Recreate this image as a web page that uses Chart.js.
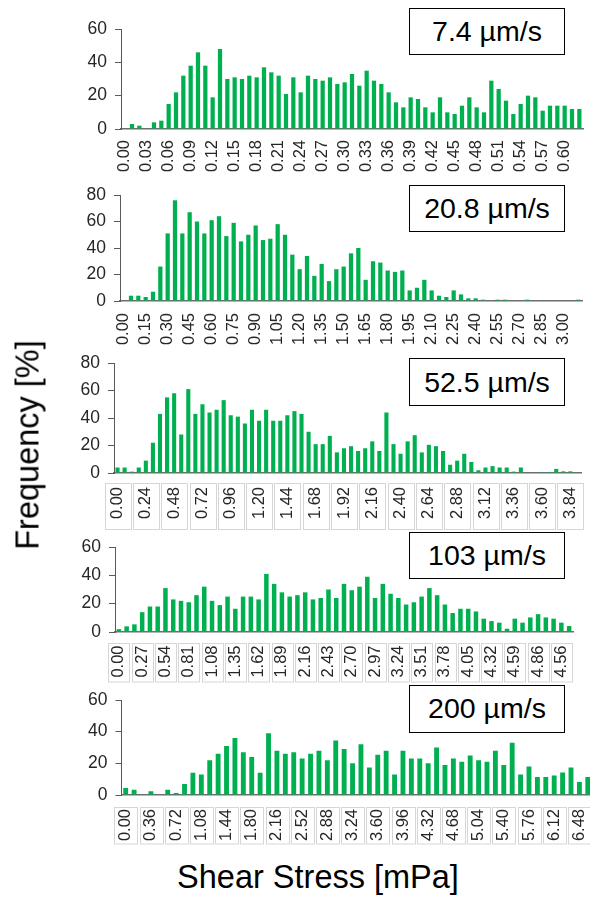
<!DOCTYPE html>
<html>
<head>
<meta charset="utf-8">
<script src="https://cdn.jsdelivr.net/npm/chart.js@4.4.0/dist/chart.umd.min.js"></script>
<style>
  html, body { margin: 0; padding: 0; background: #fff; overflow: hidden; }
  body { width: 590px; height: 898px; position: relative; font-family: 'Liberation Sans', Arial, sans-serif; }
  canvas { position: absolute; left: 0; }
  .tag {
    position: absolute; left: 409px; width: 156px; height: 47.5px; box-sizing: border-box;
    border: 1.5px solid #000; background: #fff; z-index: 2;
    display: flex; align-items: center; justify-content: center;
    font-size: 28.5px; color: #000; white-space: nowrap;
  }
  .title { position: absolute; font-size: 32.5px; color: #000; white-space: nowrap; z-index: 2; }
  #ytitle { left: 28px; top: 445px; transform: translate(-50%, -50%) rotate(-90deg); }
  #xtitle { left: 318px; top: 877px; transform: translate(-50%, -50%); }
</style>
</head>
<body>
<div id="wrap"></div>
<div class="title" id="ytitle">Frequency [%]</div>
<div class="title" id="xtitle">Shear Stress [mPa]</div>
<script>
// Flow speeds (box labels)
const speeds = ['7.4 µm/s', '20.8 µm/s', '52.5 µm/s', '103 µm/s', '200 µm/s'];

// Tick labels shown under each panel
const ticks1 = ['0.00','0.03','0.06','0.09','0.12','0.15','0.18','0.21','0.24','0.27','0.30',
  '0.33','0.36','0.39','0.42','0.45','0.48','0.51','0.54','0.57','0.60'];
const ticks2 = ['0.00','0.15','0.30','0.45','0.60','0.75','0.90','1.05','1.20','1.35','1.50',
  '1.65','1.80','1.95','2.10','2.25','2.40','2.55','2.70','2.85','3.00'];
const ticks3 = ['0.00','0.24','0.48','0.72','0.96','1.20','1.44','1.68','1.92','2.16','2.40',
  '2.64','2.88','3.12','3.36','3.60','3.84'];
const ticks4 = ['0.00','0.27','0.54','0.81','1.08','1.35','1.62','1.89','2.16','2.43','2.70',
  '2.97','3.24','3.51','3.78','4.05','4.32','4.59','4.86','4.56'];
const ticks5 = ['0.00','0.36','0.72','1.08','1.44','1.80','2.16','2.52','2.88','3.24','3.60',
  '3.96','4.32','4.68','5.04','5.40','5.76','6.12','6.48'];

// Frequency per bin [%]
const freq1 = [0, 3, 2, 0, 4, 5, 15, 22, 32, 38, 46, 38, 19, 48, 30, 31, 30, 32, 31, 37,
  34, 32, 21, 31, 22, 32, 30, 29, 31, 27, 28, 33, 26, 35, 29, 27, 22, 16, 13, 19,
  18, 13, 10, 19, 10, 9, 14, 19, 13, 10, 29, 24, 17, 9, 15, 20, 19, 11, 14, 14,
  14, 12, 12];
const freq2 = [0, 4, 4, 3, 7, 26, 51, 76, 51, 67, 60, 51, 61, 64, 49, 59, 45, 50, 57, 46,
  47, 58, 50, 35, 24, 34, 19, 28, 15, 24, 26, 36, 40, 16, 30, 29, 23, 22, 23, 8,
  10, 16, 8, 4, 3, 8, 5, 2, 2, 1, 0, 1, 1, 0, 0, 1, 0, 0, 0, 0,
  0, 0, 1];
const freq3 = [4, 4, 1, 4, 9, 22, 43, 55, 58, 28, 61, 43, 50, 44, 46, 53, 42, 41, 36, 46,
  38, 46, 38, 38, 42, 45, 43, 30, 21, 21, 27, 15, 18, 19.5, 16, 18, 23, 16, 44, 21,
  14, 23, 27.5, 15, 20.5, 19.5, 16, 6, 9, 14, 8, 2, 4, 5, 4, 4, 1, 4, 0, 0,
  0.7, 0.7, 3, 1.2, 1.2, 0];
const freq4 = [2, 4, 5.4, 14, 18, 18, 31, 23, 22, 21, 26, 32, 22, 19, 25, 16.4, 25, 25, 23, 41,
  34, 28, 25, 26, 28, 23, 24, 30, 24, 34, 29.5, 32, 39, 24, 34, 27, 24, 19.4, 21, 25,
  31, 26, 19.4, 13.4, 16.4, 16.4, 14.5, 9.4, 7.7, 6.6, 2.3, 9.4, 6.6, 10.3, 12.6, 10.3, 9.4, 6.6, 4.2];
const freq5 = [4.4, 3.3, 0, 2.3, 0, 3.3, 1.2, 7, 14, 13, 22, 26, 31, 36, 27, 24, 14, 39, 28, 26,
  27, 23, 26, 28, 22, 34.5, 29, 20, 32, 17.4, 25.5, 28, 13, 28, 23, 23, 20, 30, 19, 23,
  21, 25, 22, 21, 28, 19, 33, 13, 18, 11.3, 11.3, 12.3, 14.2, 17.4, 8.2, 11.3];

// Panel placement (page pixels)
const panels = [
  { values: freq1, ticks: ticks1, every: 3, yMax: 60, left: 121, right: 583, top: 29, bottom: 129, pad: 11, width: 590, tagTop: 7.5 },
  { values: freq2, ticks: ticks2, every: 3, yMax: 80, left: 120, right: 582, top: 195.3, bottom: 301.7, pad: 12, width: 590, tagTop: 184.5 },
  { values: freq3, ticks: ticks3, every: 4, yMax: 80, left: 114, right: 581, top: 363.3, bottom: 474, pad: 14, width: 590, tagTop: 358.3, boxGap: 10, boxH: 46 },
  { values: freq4, ticks: ticks4, every: 3, yMax: 60, left: 115, right: 573, top: 547.3, bottom: 632.7, pad: 13.5, width: 590, tagTop: 531.7, boxGap: 10.5, boxH: 38.5 },
  { values: freq5, ticks: ticks5, every: 3, yMax: 60, left: 121.5, right: 592, top: 700, bottom: 795.7, pad: 14, width: 592, tagTop: 685, boxGap: 11.5, boxH: 36.5 }
];

const FONT = "'Liberation Sans', Arial, sans-serif";
const TOP_ROOM = 12;
const AXIS_ROOM = 60;

// Light boxes round the x tick labels (lower three panels)
const labelBoxes = {
  id: 'labelBoxes',
  afterDraw(chart, args, opts) {
    if (!opts.show) return;
    const sx = chart.scales.x;
    const ctx = chart.ctx;
    const w = (sx.getPixelForTick(1) - sx.getPixelForTick(0)) * opts.every - 2.5;
    ctx.save();
    ctx.strokeStyle = '#d6d6d6';
    ctx.lineWidth = 1;
    sx.ticks.forEach((t, i) => {
      if (!t.label) return;
      const cx = sx.getPixelForTick(i);
      ctx.strokeRect(Math.round(cx - w / 2) + 0.5, Math.round(sx.top + opts.gap) + 0.5, Math.round(w), opts.height);
    });
    ctx.restore();
  }
};

const wrap = document.getElementById('wrap');

panels.forEach((p, k) => {
  const canvas = document.createElement('canvas');
  const h = (p.bottom - p.top) + TOP_ROOM + AXIS_ROOM;
  canvas.width = p.width;
  canvas.height = h;
  canvas.style.top = (p.top - TOP_ROOM) + 'px';
  wrap.appendChild(canvas);

  const labels = p.values.map((v, i) => i % p.every === 0 ? (p.ticks[i / p.every] || '') : '');

  new Chart(canvas.getContext('2d'), {
    type: 'bar',
    data: {
      labels,
      datasets: [{
        data: p.values,
        backgroundColor: '#00b050',
        borderWidth: 0,
        barPercentage: 0.58,
        categoryPercentage: 1
      }]
    },
    plugins: [labelBoxes],
    options: {
      responsive: false,
      animation: false,
      devicePixelRatio: 1,
      layout: { padding: { top: TOP_ROOM, right: p.width - p.right, left: 0, bottom: 0 } },
      plugins: {
        legend: { display: false },
        tooltip: { enabled: false },
        labelBoxes: { show: !!p.boxH, every: p.every, gap: p.boxGap, height: p.boxH }
      },
      scales: {
        x: {
          grid: { display: false, drawTicks: false },
          border: { display: true, color: '#6e6e6e', width: 1.5 },
          ticks: {
            autoSkip: false, minRotation: 90, maxRotation: 90, padding: p.pad,
            color: '#262626', font: { family: FONT, size: 16.5 }
          },
          afterFit: s => { s.height = AXIS_ROOM; s.paddingLeft = 0; s.paddingRight = 0; }
        },
        y: {
          min: 0, max: p.yMax,
          grid: { display: true, drawOnChartArea: false, drawTicks: true, tickLength: 6, color: '#595959' },
          border: { display: true, color: '#595959', width: 1 },
          ticks: { stepSize: 20, padding: 8, color: '#262626', font: { family: FONT, size: 17.5 } },
          afterFit: s => { s.width = p.left; s.paddingTop = 0; s.paddingBottom = 0; }
        }
      }
    }
  });

  const tag = document.createElement('div');
  tag.className = 'tag';
  tag.style.top = p.tagTop + 'px';
  tag.textContent = speeds[k];
  document.body.appendChild(tag);
});
</script>
</body>
</html>
